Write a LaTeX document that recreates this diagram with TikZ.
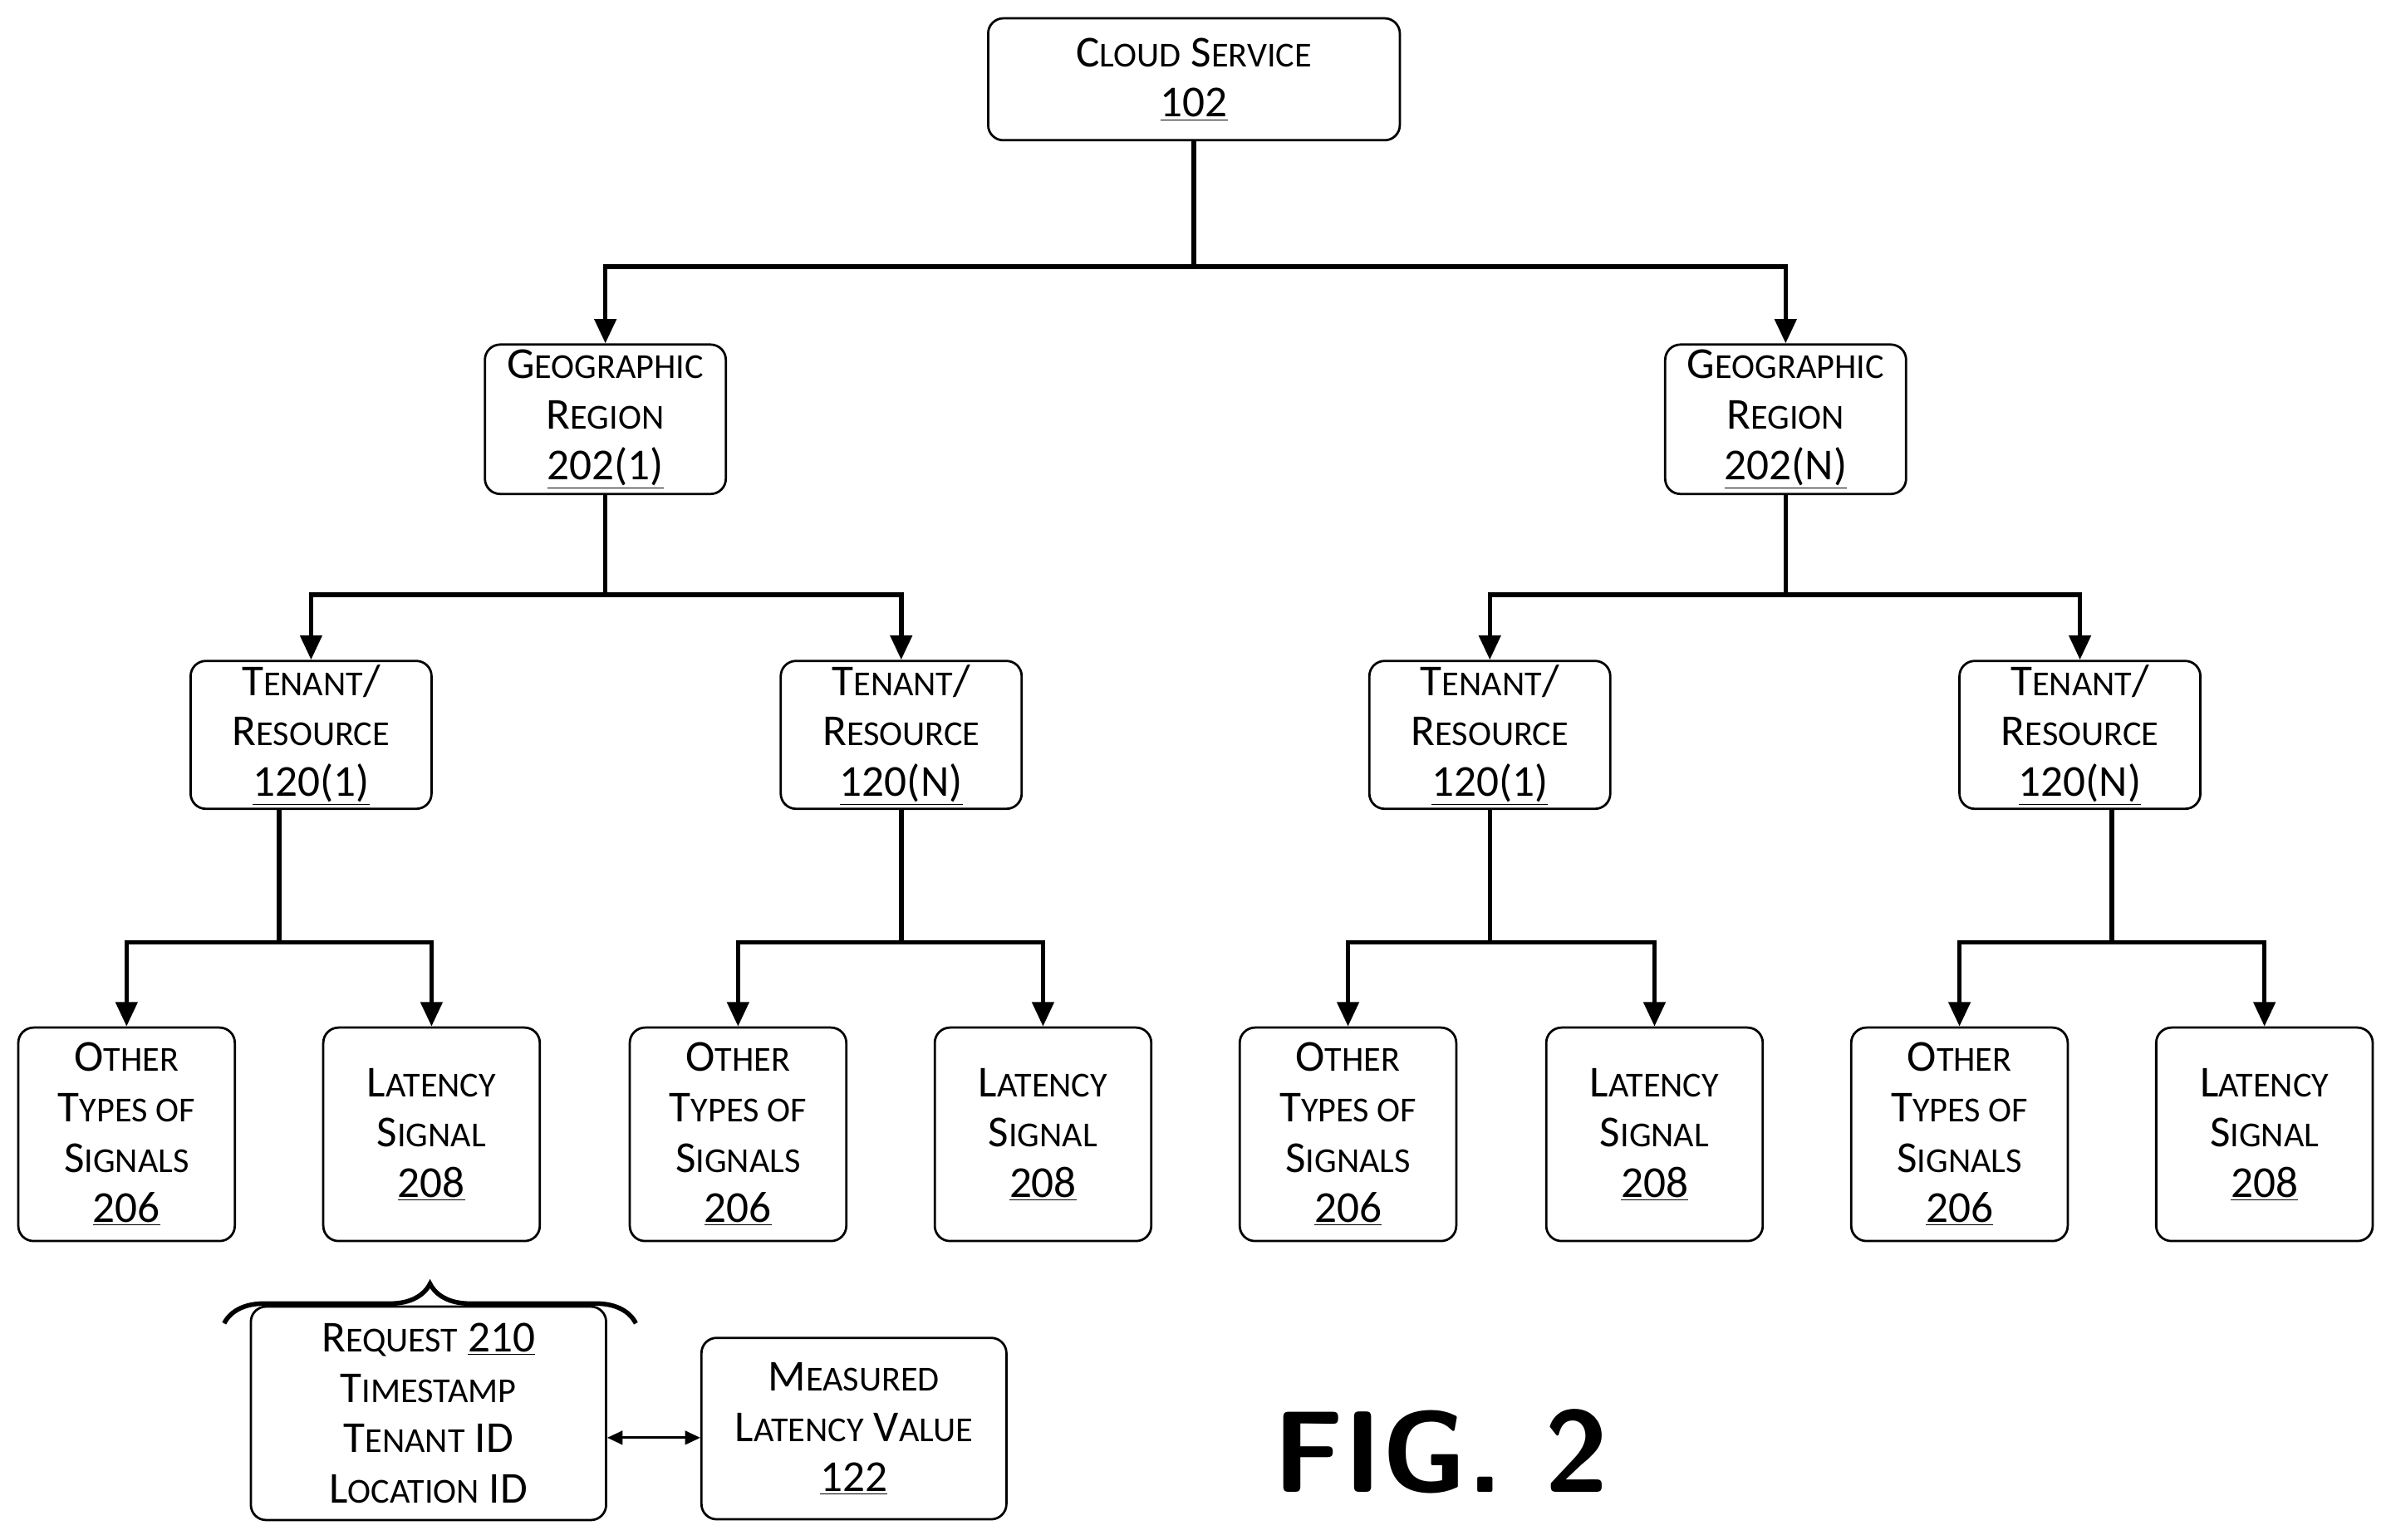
\documentclass[tikz,border=0pt]{standalone}
\usepackage{fontspec}
\setmainfont{Carlito}
\usetikzlibrary{arrows.meta,decorations.pathreplacing}
\newcommand\C[2]{{\fontsize{29}{33}\selectfont #1}{\fontsize{23}{33}\selectfont #2}}
\newcommand\N[1]{{\fontsize{29}{33}\selectfont\underline{#1}}}
\begin{document}
\begin{tikzpicture}[x=1pt,y=-1pt,
 box/.style={draw,line width=1.5pt,rounded corners=10pt,align=center,font=\fontsize{29}{33}\selectfont,inner sep=0pt},
 arr/.style={line width=3pt,-{Triangle[length=16pt,width=14pt]}},
 ln/.style={line width=3pt}]
\useasboundingbox (0,0) rectangle (1568,1010);
\node[box,minimum width=270pt,minimum height=80pt] (cs) at (783,52) {\C{C}{LOUD} \C{S}{ERVICE}\\\N{102}};
\node[box,minimum width=158pt,minimum height=98pt] (g1) at (397,275) {\C{G}{EOGRAPHIC}\\\C{R}{EGION}\\\N{202(1)}};
\node[box,minimum width=158pt,minimum height=98pt] (gn) at (1171,275) {\C{G}{EOGRAPHIC}\\\C{R}{EGION}\\\N{202(N)}};
\foreach \n/\x/\t in {t1/204/120(1),t2/591/120(N),t3/977/120(1),t4/1364/120(N)}
 \node[box,minimum width=158pt,minimum height=97pt] (\n) at (\x,482) {\C{T}{ENANT}/\\\C{R}{ESOURCE}\\\N{\t}};
\foreach \i/\x in {1/83,2/484,3/884,4/1285}
 \node[box,minimum width=142pt,minimum height=140pt] (o\i) at (\x,744) {\C{O}{THER}\\\C{T}{YPES OF}\\\C{S}{IGNALS}\\\N{206}};
\foreach \i/\x in {1/283,2/684,3/1085,4/1485}
 \node[box,minimum width=142pt,minimum height=140pt] (l\i) at (\x,744) {\C{L}{ATENCY}\\\C{S}{IGNAL}\\\N{208}};
\node[box,minimum width=233pt,minimum height=140pt] (rq) at (281,927) {\C{R}{EQUEST} \N{210}\\\C{T}{IMESTAMP}\\\C{T}{ENANT} \C{ID}{}\\\C{L}{OCATION} \C{ID}{}};
\node[box,minimum width=200pt,minimum height=119pt] (mv) at (560,937) {\C{M}{EASURED}\\\C{L}{ATENCY} \C{V}{ALUE}\\\N{122}};
\node[font=\fontsize{76}{80}\selectfont\bfseries\sffamily] (fig) at (945,952) {FIG. 2};
% connectors
\coordinate (c0) at (783,175);
\draw[ln] (cs.south) -- (c0);
\draw[arr] (c0) -| (g1.north);
\draw[arr] (c0) -| (gn.north);
\coordinate (c1) at (397,390);
\draw[ln] (g1.south) -- (c1);
\draw[arr] (c1) -| (t1.north);
\draw[arr] (c1) -| (t2.north);
\coordinate (c2) at (1171,390);
\draw[ln] (gn.south) -- (c2);
\draw[arr] (c2) -| (t3.north);
\draw[arr] (c2) -| (t4.north);
\foreach \t/\a/\b/\x in {t1/o1/l1/183,t2/o2/l2/591,t3/o3/l3/977,t4/o4/l4/1385}{
 \coordinate (d\t) at (\x,618);
 \draw[ln] (\x,531) -- (d\t);
 \draw[arr] (d\t) -| (\a.north);
 \draw[arr] (d\t) -| (\b.north);
}
\draw[line width=3pt,decorate,decoration={brace,amplitude=26pt}] (147,868) -- (417,868);
\draw[line width=1.5pt,{Triangle[length=10pt,width=9pt]}-{Triangle[length=10pt,width=9pt]}] (rq.east |- 0,943) -- (mv.west |- 0,943);
\end{tikzpicture}
\end{document}
